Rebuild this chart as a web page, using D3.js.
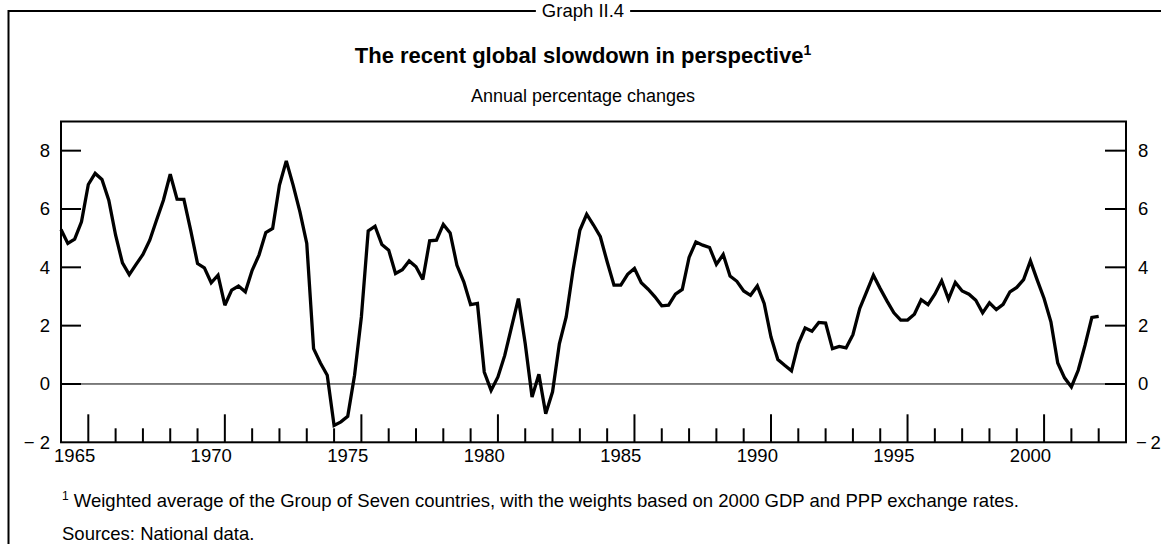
<!DOCTYPE html>
<html><head><meta charset="utf-8">
<script src="https://cdn.jsdelivr.net/npm/d3@7"></script>
<style>
body{margin:0;background:#fff}
svg{display:block}
text{font-family:"Liberation Sans",Arial,Helvetica,sans-serif;fill:#000}
</style>
</head><body>
<svg id="c" width="1161" height="544"></svg>
<script>
// ---- data (quarterly, first point = 1965 Q1) ----
const startYear = 1965;
const gdpGrowth = [
 5.30,4.82,4.97,5.56, 6.84,7.22,7.01,6.30, 5.10,4.15,3.75,4.10, 4.44,4.93,5.62,6.30,
 7.19,6.34,6.33,5.27, 4.13,3.98,3.47,3.73, 2.70,3.22,3.36,3.16, 3.90,4.42,5.19,5.33,
 6.82,7.65,6.82,5.90, 4.82,1.21,0.72,0.30, -1.42,-1.30,-1.11,0.30, 2.30,5.25,5.41,4.78,
 4.59,3.79,3.92,4.22, 4.02,3.58,4.91,4.93, 5.47,5.18,4.07,3.50, 2.72,2.76,0.41,-0.22,
 0.24,0.98,1.96,2.93, 1.38,-0.45,0.33,-1.02, -0.27,1.38,2.30,3.90, 5.27,5.82,5.45,5.05,
 4.19,3.39,3.39,3.76, 3.96,3.47,3.25,2.99, 2.68,2.70,3.08,3.24, 4.34,4.87,4.76,4.68,
 4.10,4.44,3.70,3.52, 3.19,3.04,3.36,2.76, 1.61,0.84,0.64,0.45, 1.38,1.92,1.81,2.11,
 2.09,1.21,1.29,1.24, 1.69,2.59,3.16,3.73, 3.27,2.84,2.44,2.19, 2.19,2.39,2.89,2.72,
 3.08,3.54,2.91,3.48, 3.19,3.08,2.87,2.44, 2.78,2.55,2.73,3.16, 3.31,3.58,4.22,3.56,
 2.93,2.13,0.72,0.21, -0.10,0.47,1.33,2.28, 2.32
];
const yTickValues = [-2,0,2,4,6,8];
const yearLabels = [1965,1970,1975,1980,1985,1990,1995,2000];
const yearTicks = d3.range(1966, 2004);
const graphNo = "Graph II.4";
const titleText = "The recent global slowdown in perspective";
const subtitleText = "Annual percentage changes";
const footnoteText = " Weighted average of the Group of Seven countries, with the weights based on 2000 GDP and PPP exchange rates.";
const sourcesText = "Sources: National data.";

// ---- layout ----
const svg = d3.select("#c");
const L = 61, R = 1126, T = 121.5, B = 442.3;
const x = d3.scaleLinear().domain([1965, 2004]).range([L, R]);
const y = d3.scaleLinear().domain([-2, 9]).range([B, T]);
const fmt = v => v < 0 ? "\u2212 " + Math.abs(v) : String(v);
const fmtR = v => v < 0 ? "\u2212\u2009" + Math.abs(v) : String(v);
const FS = "18.5px";

// outer frame
const gTop = svg.append("text").attr("x", 583).attr("y", 17).attr("text-anchor","middle")
  .style("font-size","18.5px").text(graphNo);
const bb = gTop.node().getBBox();
svg.append("path").attr("d", `M8.5,544 V11 H${bb.x-6} M${bb.x+bb.width+6},11 H1161`)
  .attr("fill","none").attr("stroke","#000").attr("stroke-width",2);

// titles
const tt = svg.append("text").attr("x", 583).attr("y", 63).attr("text-anchor","middle")
  .style("font-size","22px").style("font-weight","bold");
tt.append("tspan").text(titleText);
tt.append("tspan").attr("dy",-8).style("font-size","14px").text("1");
svg.append("text").attr("x", 583).attr("y", 102).attr("text-anchor","middle")
  .style("font-size","18px").text(subtitleText);

// zero line
svg.append("line").attr("x1",L).attr("x2",R).attr("y1",y(0)).attr("y2",y(0))
  .attr("stroke","#000").attr("stroke-width",1);

// y axes (ticks inward)
const yt = yTickValues.filter(v => v > -2);
svg.append("g").selectAll("line").data(yt).join("line")
  .attr("x1",L).attr("x2",L+20).attr("y1",d=>y(d)).attr("y2",d=>y(d))
  .attr("stroke","#000").attr("stroke-width",2);
svg.append("g").selectAll("line").data(yt).join("line")
  .attr("x1",R-21).attr("x2",R).attr("y1",d=>y(d)).attr("y2",d=>y(d))
  .attr("stroke","#000").attr("stroke-width",2);
svg.append("g").selectAll("text").data(yTickValues).join("text")
  .attr("x",L-11).attr("y",d=>y(d)).attr("dy","0.35em").attr("text-anchor","end")
  .style("font-size",FS).text(fmt);
svg.append("g").selectAll("text").data(yTickValues).join("text")
  .attr("x",d => d < 0 ? R+10 : R+12).attr("y",d=>y(d)).attr("dy","0.35em").attr("text-anchor","start")
  .style("font-size",FS).text(fmtR);

// x ticks (upward from bottom)
svg.append("g").selectAll("line").data(yearTicks).join("line")
  .attr("x1",d=>x(d)).attr("x2",d=>x(d)).attr("y1",B)
  .attr("y2",d=> ((d-1966)%5===0) ? B-28 : B-14)
  .attr("stroke","#000").attr("stroke-width",2);
svg.append("g").selectAll("text").data(yearLabels).join("text")
  .attr("x",d=>x(d+0.5)).attr("y",462).attr("text-anchor","middle")
  .style("font-size",FS).text(d=>d);

// plot frame
svg.append("rect").attr("x",L).attr("y",T).attr("width",R-L).attr("height",B-T)
  .attr("fill","none").attr("stroke","#000").attr("stroke-width",2);

// data line
const line = d3.line().x((d,i)=>x(startYear + i/4)).y(d=>y(d)).curve(d3.curveLinear);
svg.append("path").datum(gdpGrowth).attr("d",line)
  .attr("fill","none").attr("stroke","#000").attr("stroke-width",3.3)
  .attr("stroke-linejoin","miter").attr("stroke-miterlimit",3);

// footnotes
const fn = svg.append("text").attr("x",62).attr("y",507).style("font-size",FS);
fn.append("tspan").attr("dy",-7).style("font-size","12px").text("1");
fn.append("tspan").attr("dy",7).text(footnoteText);
svg.append("text").attr("x",62).attr("y",540).style("font-size",FS).text(sourcesText);
</script>
</body></html>
